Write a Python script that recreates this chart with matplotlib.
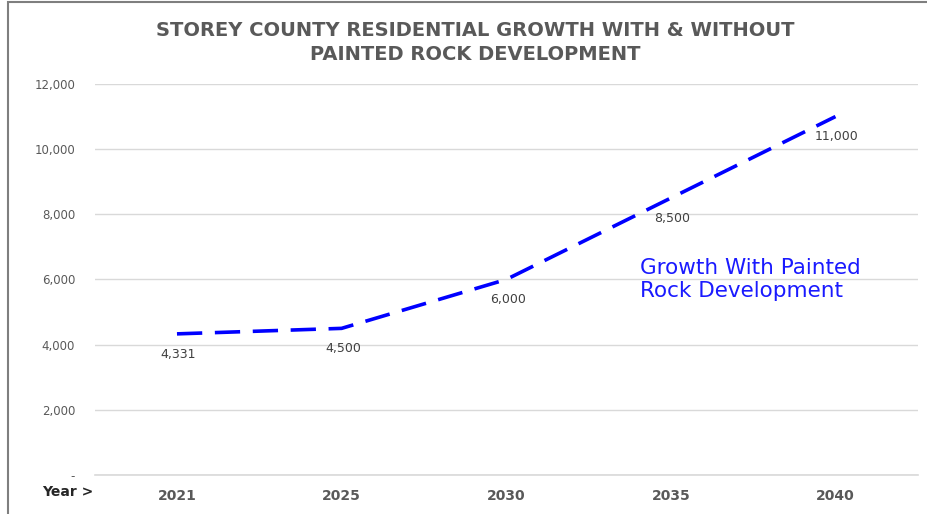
import matplotlib.pyplot as plt
from matplotlib.patches import Rectangle

years = ['2021', '2025', '2030', '2035', '2040']
growth_with_pr = [4331, 4500, 6000, 8500, 11000]
y_ticks = [0, 2000, 4000, 6000, 8000, 10000, 12000]
y_labels = ['-', '2,000', '4,000', '6,000', '8,000', '10,000', '12,000']

plt.rcParams['font.family'] = ['DejaVu Sans']

fig = plt.figure(figsize=(9.28, 5.14), dpi=100)
ax = fig.add_axes([0.102, 0.0759, 0.887, 0.7607])

x = list(range(len(years)))
ax.plot(x, growth_with_pr, color='#0000ff', lw=2.6, dashes=(7, 3.5))

for xi, v in zip(x, growth_with_pr):
    ax.annotate(f'{v:,}', (xi, v), xytext=(1, -10), textcoords='offset points',
                ha='center', va='top', fontsize=9, color='#404040')

ax.set_xlim(-0.5, 4.5)
ax.set_ylim(0, 12000)
ax.set_yticks(y_ticks)
ax.set_yticklabels(y_labels, fontsize=8.5, color='#595959')
ax.set_xticks(x)
ax.set_xticklabels(years, fontsize=10, fontweight='bold', color='#595959')
ax.tick_params(length=0, axis='y', pad=14)
ax.tick_params(length=0, axis='x', pad=10)
ax.grid(axis='y', color='#d9d9d9', lw=1)
ax.axhline(0, color='#d9d9d9', lw=1.2, clip_on=False, zorder=0)
ax.set_axisbelow(True)
for s in ax.spines.values():
    s.set_visible(False)

ax.text(2.81, 6000, 'Growth With Painted\nRock Development', color='#1a1aff',
        fontsize=15.5, va='center', ha='left', linespacing=1.2)

fig.text(0.045, 0.042, 'Year >', fontsize=10, color='#262626', fontweight='bold',
         va='center')

fig.text(0.512, 0.918, 'STOREY COUNTY RESIDENTIAL GROWTH WITH & WITHOUT\nPAINTED ROCK DEVELOPMENT',
         ha='center', va='center', fontsize=14, fontweight='bold', color='#595959',
         linespacing=1.35)

fig.patches.append(Rectangle((0.009, -0.01), 1.0, 1.006, transform=fig.transFigure,
                             fill=False, edgecolor='#7f7f7f', lw=1.5))

fig.savefig('out.png', dpi=100)
